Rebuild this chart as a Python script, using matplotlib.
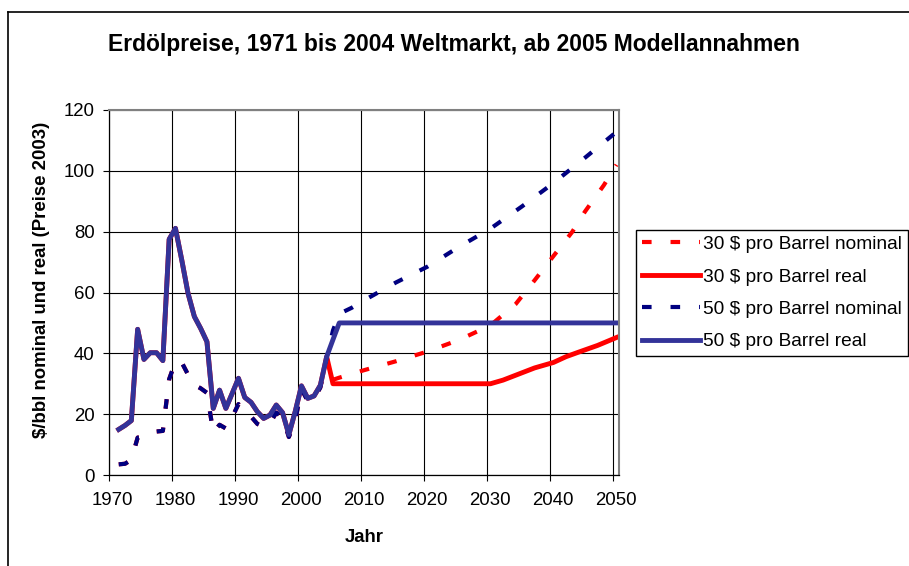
import matplotlib
matplotlib.use("Agg")
import matplotlib.pyplot as plt
from matplotlib.lines import Line2D
from matplotlib.transforms import ScaledTranslation
import numpy as np

plt.rcParams['font.family'] = ['Liberation Sans', 'DejaVu Sans']

# --- data -----------------------------------------------------------------
hist_years = list(range(1971, 2005))
hist_real = [15.0, 16.3, 17.9, 47.9, 38.0, 40.2, 40.2, 37.6, 77.5, 81.1,
             70.7, 59.7, 52.1, 48.2, 43.8, 21.9, 27.9, 21.9, 26.8, 31.8,
             25.5, 23.9, 20.8, 18.6, 19.7, 23.0, 20.5, 13.3, 20.8, 29.3,
             25.2, 26.0, 29.5, 38.9]
hist_nominal = [3.5, 3.7, 5.0, 12.3, 12.5, 13.3, 14.3, 14.5, 31.5, 37.3,
                37.0, 33.0, 29.6, 28.5, 27.0, 14.0, 16.5, 15.3, 19.0, 23.3,
                20.5, 19.2, 16.8, 15.8, 17.0, 20.5, 19.0, 12.5, 17.8, 28.3,
                24.3, 25.0, 28.8, 38.6]

# model assumptions from 2005
y30_real = [2005, 2030, 2032, 2035, 2037, 2040, 2042, 2044, 2047, 2050]
v30_real = [30.0, 30.0, 31.2, 33.6, 35.2, 37.0, 38.9, 40.4, 42.6, 45.2]
y30_nom = [2005, 2006, 2010, 2015, 2020, 2025, 2030, 2034, 2037, 2040,
           2043, 2045, 2048, 2050]
v30_nom = [31.3, 32.0, 34.5, 37.4, 40.6, 44.4, 49.2, 56.2, 64.0, 72.0,
           80.0, 86.6, 95.3, 102.0]
y50_real = [2005, 2006, 2050]
v50_real = [44.5, 50.0, 50.0]
y50_nom = [2005, 2006, 2008, 2010, 2015, 2020, 2025, 2030, 2035, 2040,
           2045, 2050]
v50_nom = [47.5, 53.0, 55.0, 57.5, 63.3, 68.5, 75.0, 81.0, 88.3, 96.0,
           104.3, 112.8]

labels = ["30 $ pro Barrel nominal", "30 $ pro Barrel real",
          "50 $ pro Barrel nominal", "50 $ pro Barrel real"]

# points sit in the middle of each year slot (category axis)
CAT_OFFSET = 0.5


def series(fut_years, fut_vals, hist_vals):
    x = np.array(hist_years + fut_years) + CAT_OFFSET
    y = np.array(hist_vals + fut_vals)
    return x, y


fig = plt.figure(figsize=(9.09, 5.66), dpi=100)
ax = fig.add_axes([109.3 / 909, 1 - 475 / 566, (619 - 109.3) / 909, 365 / 566])

RED = "#FF0000"
NAVY = "#000080"
BLUE = "#333399"
dash = (2.3, 4.55)

x, y = series(y30_nom, v30_nom, hist_nominal)
ax.plot(x, y, color=RED, lw=3.0, dashes=dash, dash_capstyle="butt", label=labels[0])
x, y = series(y30_real, v30_real, hist_real)
ax.plot(x, y, color=RED, lw=3.5, solid_joinstyle="round", label=labels[1])
x, y = series(y50_nom, v50_nom, hist_nominal)
ax.plot(x, y, color=NAVY, lw=3.0, dashes=dash, dash_capstyle="butt", label=labels[2])
x, y = series(y50_real, v50_real, hist_real)
ax.plot(x, y, color=BLUE, lw=3.5, solid_joinstyle="round", label=labels[3])

ax.set_xlim(1970, 2050.9)
ax.set_ylim(0, 120)
ax.set_xticks(range(1970, 2051, 10))
ax.set_yticks(range(0, 121, 20))
ax.grid(True, color="black", lw=0.8)
ax.set_axisbelow(True)

ax.tick_params(direction="out", length=4.5, width=0.8, labelsize=13.4, colors="black")
ax.tick_params(axis="x", pad=8)
ax.tick_params(axis="y", pad=6)
for lab in ax.get_xticklabels():
    lab.set_transform(lab.get_transform() + ScaledTranslation(3.0 / 100, 0, fig.dpi_scale_trans))

for side in ("left", "bottom"):
    ax.spines[side].set_color("black")
    ax.spines[side].set_linewidth(0.9)
for side in ("top", "right"):
    ax.spines[side].set_color("#808080")
    ax.spines[side].set_linewidth(1.5)

fig.text(453.5 / 909, 1 - 45 / 566, "Erdölpreise, 1971 bis 2004 Weltmarkt, ab 2005 Modellannahmen",
         ha="center", va="center", fontsize=16.5, fontweight="bold")
fig.text(364 / 909, 1 - 538 / 566, "Jahr", ha="center", va="center",
         fontsize=13.3, fontweight="bold")
fig.text(42 / 909, 1 - 280 / 566, "$/bbl nominal und real (Preise 2003)", ha="center",
         va="center", rotation=90, fontsize=13.4, fontweight="bold")

leg = ax.legend(loc="upper left", bbox_to_anchor=(636 / 909, 1 - 230 / 566),
                bbox_transform=fig.transFigure, borderaxespad=0, fontsize=13.8,
                handlelength=3.05, handletextpad=0.16, borderpad=0.3,
                labelspacing=0.78, fancybox=False, framealpha=1)
leg.get_frame().set_edgecolor("black")
leg.get_frame().set_linewidth(1.0)

# chart area border (left and top visible)
fig.add_artist(Line2D([8 / 909, 8 / 909], [0, 1 - 12 / 566], color="black", lw=1.2))
fig.add_artist(Line2D([8 / 909, 1], [1 - 12 / 566, 1 - 12 / 566], color="black", lw=1.2))

fig.savefig("out.png", dpi=100)
